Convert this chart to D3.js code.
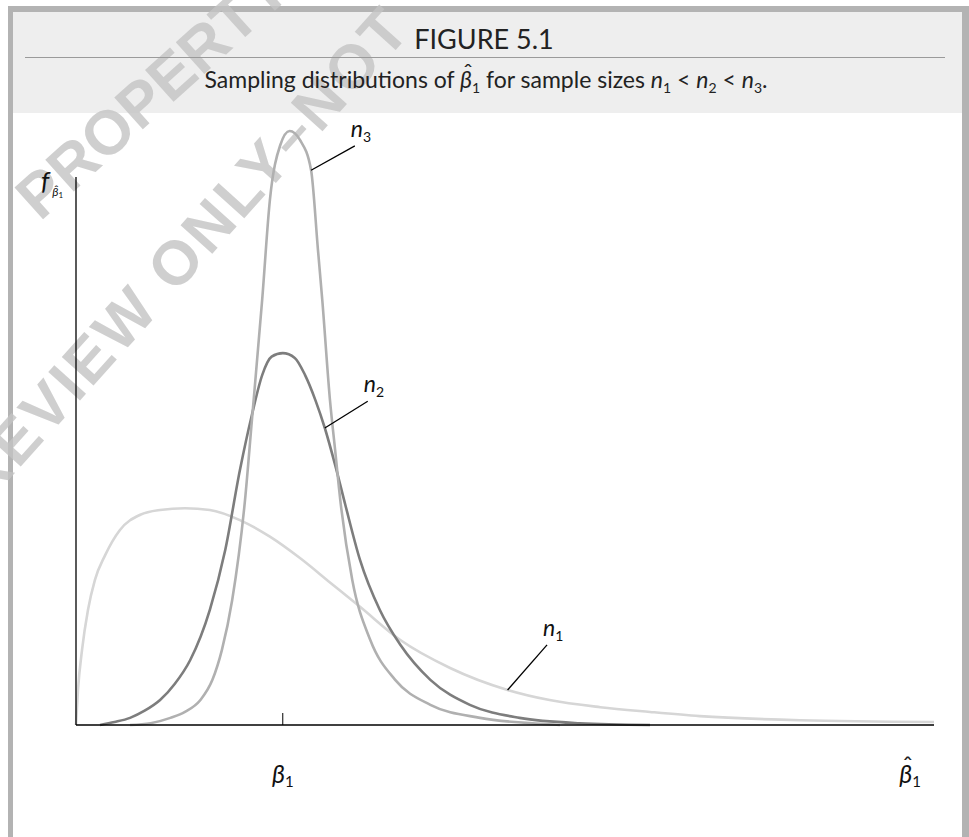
<!DOCTYPE html>
<html>
<head>
<meta charset="utf-8">
<script src="https://cdn.jsdelivr.net/npm/d3@7"></script>
<style>
  html, body { margin: 0; padding: 0; background: #fff; }
  svg { display: block; }
</style>
</head>
<body>
<svg id="chart" width="969" height="837"></svg>
<script>
// figure 5.1 - sampling distributions

// data (x in arbitrary units, beta1 sits at 24.1; density relative to n3 peak)
const beta1 = 24.1;
const curveNames = ["n1", "n2", "n3"];

const n1Values = [
  [0, 0], [0.23, 0.059], [0.7, 0.126], [1.4, 0.194], [2.2, 0.244], [3.4, 0.286],
  [5.1, 0.328], [7.5, 0.354], [9.8, 0.362], [12.7, 0.365], [15.6, 0.362],
  [19.1, 0.345], [22.6, 0.317], [26.1, 0.281], [29.6, 0.24], [33.1, 0.199],
  [37.8, 0.143], [43.6, 0.096], [50.3, 0.059], [55.2, 0.042], [61.1, 0.03],
  [66.9, 0.022], [72.7, 0.015], [84.4, 0.008], [100, 0.005]
];

const n2Values = [
  [2.8, 0], [4.5, 0.005], [6.3, 0.012], [8.0, 0.024], [9.8, 0.042],
  [11.5, 0.069], [13.3, 0.109], [15.6, 0.194], [17.4, 0.295], [19.1, 0.429],
  [20.5, 0.522], [21.7, 0.589], [22.8, 0.62], [24.1, 0.626], [25.5, 0.618],
  [26.7, 0.589], [27.9, 0.547], [29.0, 0.5], [30.2, 0.438], [31.4, 0.37],
  [33.1, 0.278], [35.4, 0.194], [37.8, 0.135], [41.3, 0.076], [45.9, 0.034],
  [51.7, 0.012], [58.7, 0.003], [66.9, 0]
];

const n3Values = [
  [6.3, 0], [8.7, 0.003], [11.0, 0.012], [12.7, 0.022], [14.5, 0.042],
  [15.9, 0.076], [17.0, 0.126], [18.2, 0.21], [19.7, 0.379], [20.5, 0.513],
  [21.7, 0.716], [22.6, 0.884], [23.8, 0.976], [24.9, 1.0], [26.1, 0.985],
  [27.4, 0.934], [28.2, 0.8], [28.7, 0.716], [29.6, 0.547], [30.2, 0.463],
  [30.8, 0.379], [32.2, 0.244], [34.3, 0.143], [37.2, 0.076], [41.3, 0.034],
  [47.1, 0.012], [54.1, 0.002], [56.4, 0]
];

// leader lines: [point on curve, end near label]
const leaders = {
  n1: [[50.3, 0.059], [54.9, 0.135]],
  n2: [[29.0, 0.5], [34.0, 0.545]],
  n3: [[27.4, 0.934], [32.5, 0.975]]
};

const width = 969, height = 837;
const svg = d3.select("#chart");
const font = "Lato, 'Open Sans', sans-serif";

// frame + header panel
svg.append("rect").attr("x", 8).attr("y", 6).attr("width", 961).attr("height", 840).attr("fill", "#b3b3b3");
svg.append("rect").attr("x", 13).attr("y", 12).attr("width", 949).attr("height", 840).attr("fill", "#fff");
svg.append("rect").attr("x", 13).attr("y", 12).attr("width", 949).attr("height", 101).attr("fill", "#eeeeee");

// watermark sits behind the figure content
const wm = svg.append("g")
  .attr("font-family", "'Liberation Sans', Arial, sans-serif")
  .attr("font-weight", "bold")
  .attr("font-size", 62)
  .attr("fill", "#c4c4c4")
  .attr("opacity", 0.8);
wm.append("text").attr("transform", "translate(40,222) rotate(-42)").text("PROPERTY");
wm.append("text").attr("transform", "translate(-14,505) rotate(-48)")
  .attr("letter-spacing", 3).text("REVIEW ONLY–NOT");

svg.append("line").attr("x1", 25).attr("x2", 945).attr("y1", 57.5).attr("y2", 57.5)
  .attr("stroke", "#9a9a9a").attr("stroke-width", 1);

svg.append("text")
  .attr("x", 484).attr("y", 49)
  .attr("text-anchor", "middle")
  .attr("font-family", font).attr("font-size", 27).attr("fill", "#222")
  .text("FIGURE 5.1");

// subtitle with math bits
const sub = svg.append("text")
  .attr("x", 486).attr("y", 88)
  .attr("text-anchor", "middle")
  .attr("font-family", font).attr("font-size", 23).attr("fill", "#222");

const parts = [
  ["Sampling distributions of ", "n"],
  ["β", "i"], ["1", "s"],
  [" for sample sizes ", "n"],
  ["n", "i"], ["1", "s"], [" < ", "n"],
  ["n", "i"], ["2", "s"], [" < ", "n"],
  ["n", "i"], ["3", "s"], [".", "n"]
];
parts.forEach(([t, k], i) => {
  const ts = sub.append("tspan").text(t);
  if (k === "i") ts.attr("font-style", "italic");
  if (k === "s") ts.attr("font-size", 14).attr("dy", 5);
  else if (i > 0 && parts[i - 1][1] === "s") ts.attr("dy", -5);
});

// hat helper: places a circumflex over a given character
function addHat(textSel, charIndex, size, lift, nudge) {
  const ext = textSel.node().getExtentOfChar(charIndex);
  svg.append("text")
    .attr("x", ext.x + ext.width / 2 + nudge)
    .attr("y", ext.y + lift)
    .attr("text-anchor", "middle")
    .attr("font-family", font).attr("font-size", size).attr("fill", "#222")
    .text("ˆ");
}
addHat(sub, "Sampling distributions of ".length, 24, 16, 2);

// scales
const x = d3.scaleLinear().domain([0, 100]).range([76, 934]);
const y = d3.scaleLinear().domain([0, 1]).range([725, 131]);

const line = d3.line()
  .x(d => x(d[0]))
  .y(d => y(d[1]))
  .curve(d3.curveMonotoneX);

const styles = {
  n1: { color: "#d6d6d6", data: n1Values },
  n2: { color: "#7d7d7d", data: n2Values },
  n3: { color: "#b0b0b0", data: n3Values }
};

curveNames.forEach(k => {
  svg.append("path")
    .datum(styles[k].data)
    .attr("d", line)
    .attr("fill", "none")
    .attr("stroke", styles[k].color)
    .attr("stroke-width", 2.6);
});

// axes (bare lines)
svg.append("line").attr("x1", x(0)).attr("x2", x(0)).attr("y1", 177).attr("y2", y(0))
  .attr("stroke", "#000").attr("stroke-width", 1.3);
svg.append("line").attr("x1", x(0)).attr("x2", x(100)).attr("y1", y(0)).attr("y2", y(0))
  .attr("stroke", "#000").attr("stroke-width", 1.3);
svg.append("line").attr("x1", x(beta1)).attr("x2", x(beta1)).attr("y1", y(0) - 12).attr("y2", y(0))
  .attr("stroke", "#000").attr("stroke-width", 1);

// leaders and labels
curveNames.forEach(k => {
  const [a, b] = leaders[k];
  svg.append("line")
    .attr("x1", x(a[0])).attr("y1", y(a[1]))
    .attr("x2", x(b[0])).attr("y2", y(b[1]))
    .attr("stroke", "#000").attr("stroke-width", 1.3);
  const t = svg.append("text")
    .attr("x", x(b[0]) - 4).attr("y", y(b[1]) - 9)
    .attr("font-family", font).attr("font-size", 23).attr("fill", "#111");
  t.append("tspan").attr("font-style", "italic").text("n");
  t.append("tspan").attr("font-size", 14).attr("dy", 5).text(k.slice(1));
});

// axis labels
const bl = svg.append("text")
  .attr("x", x(beta1)).attr("y", 783)
  .attr("text-anchor", "middle")
  .attr("font-family", font).attr("font-size", 25).attr("fill", "#111");
bl.append("tspan").attr("font-style", "italic").text("β");
bl.append("tspan").attr("font-size", 15).attr("dy", 4).text("1");

const bh = svg.append("text")
  .attr("x", 910).attr("y", 783)
  .attr("text-anchor", "middle")
  .attr("font-family", font).attr("font-size", 25).attr("fill", "#111");
bh.append("tspan").attr("font-style", "italic").text("β");
bh.append("tspan").attr("font-size", 15).attr("dy", 4).text("1");
addHat(bh, 0, 25, 17, 2);

const fl = svg.append("text")
  .attr("x", 41).attr("y", 190)
  .attr("font-family", font).attr("font-size", 26).attr("fill", "#111");
fl.append("tspan").attr("font-style", "italic").text("f");
fl.append("tspan").attr("font-style", "italic").attr("font-size", 12).attr("dy", 6).attr("dx", 3).text("β");
fl.append("tspan").attr("font-size", 8).attr("dy", 2).text("1");
addHat(fl, 1, 12, 10, 1);
</script>
</body>
</html>
